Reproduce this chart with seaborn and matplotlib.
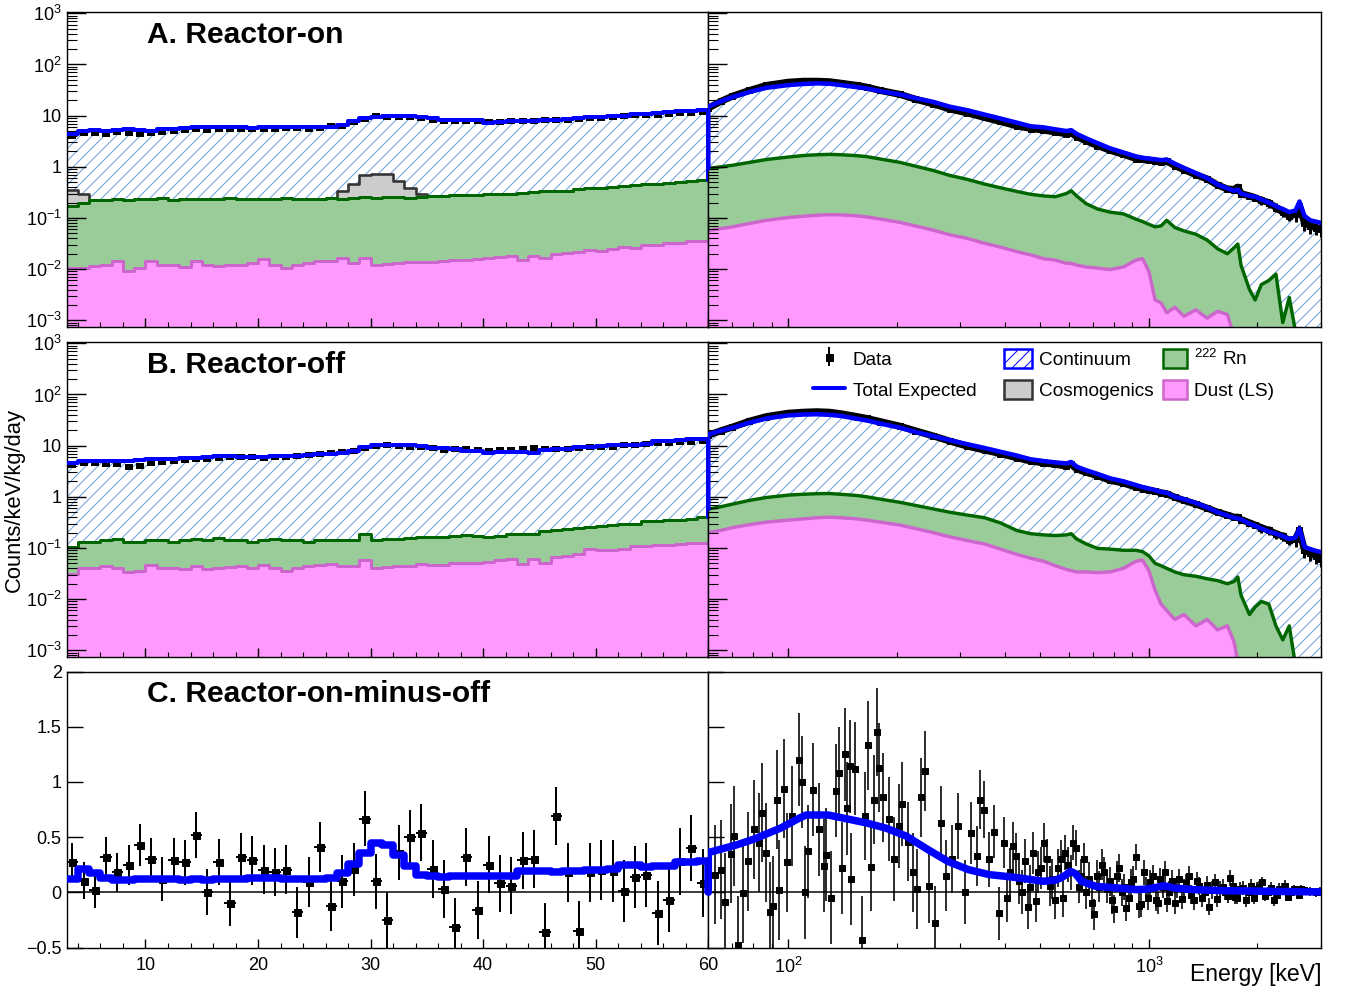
import numpy as np
import matplotlib
matplotlib.use("Agg")
import matplotlib.pyplot as plt
import seaborn as sns
from matplotlib.legend import Legend
from matplotlib.lines import Line2D
from matplotlib.patches import Patch
from matplotlib.ticker import (FixedLocator, LogLocator, MultipleLocator,
                               FuncFormatter, NullFormatter, NullLocator)

# ------------------------------------------------------------------ data
# 1 keV bins between 3 and 60 keV (lower edges)
bin_lo = list(range(3, 60))

# Reactor-on, 3-60 keV
a_total_lo = [4.4, 5.0, 5.3, 5.1, 5.3, 5.4, 5.3, 5.1, 5.4, 5.5, 5.7, 5.9, 6.0, 6.1, 6.1,
              5.9, 5.8, 5.9, 6.0, 5.9, 6.1, 5.9, 5.9, 6.1, 6.5, 7.8, 8.8, 9.6, 10.0, 10.0,
              10.0, 9.4, 9.0, 8.4, 8.4, 8.4, 8.2, 7.3, 7.6, 7.8, 7.8, 8.0, 8.4, 8.4, 8.5,
              8.9, 9.5, 9.6, 9.8, 10.0, 10.8, 11.0, 11.2, 11.8, 12.3, 12.4, 12.6]
a_data_lo = [4.0, 4.5, 4.6, 4.4, 4.7, 4.6, 4.4, 4.5, 4.8, 4.9, 5.2, 5.4, 5.3, 5.6, 5.5,
             5.4, 5.6, 5.5, 5.4, 5.7, 5.8, 5.6, 5.8, 6.2, 6.3, 7.5, 8.5, 9.8, 9.6, 9.6,
             9.3, 8.8, 8.4, 7.9, 8.0, 7.8, 7.7, 7.5, 7.6, 7.9, 7.9, 8.0, 8.2, 8.4, 8.3,
             8.6, 9.0, 9.0, 9.3, 10.0, 10.2, 10.5, 10.5, 11.0, 11.2, 11.5, 11.8]
# dust + 222Rn stack level
a_rn_cum_lo = [0.17, 0.20, 0.22, 0.22, 0.23, 0.22, 0.24, 0.23, 0.25, 0.22, 0.23, 0.23, 0.24,
               0.23, 0.25, 0.23, 0.24, 0.24, 0.23, 0.25, 0.24, 0.23, 0.24, 0.25, 0.24,
               0.25, 0.26, 0.25, 0.26, 0.26, 0.25, 0.26, 0.27, 0.27, 0.28, 0.28, 0.28,
               0.29, 0.29, 0.29, 0.31, 0.32, 0.33, 0.34, 0.34, 0.37, 0.38, 0.39, 0.41,
               0.42, 0.44, 0.46, 0.47, 0.49, 0.51, 0.52, 0.55]
a_dust_lo = [0.0105, 0.0105, 0.0114, 0.0123, 0.0143, 0.0094, 0.0105, 0.0146, 0.0123, 0.0118,
             0.011, 0.0143, 0.0118, 0.0114, 0.0118, 0.0123, 0.013, 0.0155, 0.0123, 0.0105,
             0.0118, 0.013, 0.0145, 0.0143, 0.0165, 0.0132, 0.0165, 0.012, 0.0128, 0.013,
             0.0135, 0.0138, 0.014, 0.0145, 0.0148, 0.015, 0.0155, 0.0165, 0.017, 0.018,
             0.015, 0.018, 0.0165, 0.0195, 0.021, 0.022, 0.024, 0.023, 0.025, 0.027,
             0.026, 0.029, 0.030, 0.032, 0.033, 0.035, 0.036]
a_cosmo_lo = ([0.19, 0.10] + [0.0] * 22
              + [0.09, 0.21, 0.43, 0.46, 0.45, 0.26, 0.13, 0.04] + [0.0] * 25)

# Reactor-off, 3-60 keV
b_total_lo = [4.6, 5.0, 5.0, 5.0, 5.1, 5.1, 5.3, 5.4, 5.4, 5.6, 5.8, 5.8, 6.0, 6.2, 6.2,
              6.1, 6.1, 6.1, 6.2, 6.3, 6.3, 6.5, 7.0, 7.0, 7.2,
              7.9, 9.2, 10.5, 10.5, 10.5, 10.5, 10.0, 8.8, 8.8, 8.5, 7.9, 7.9, 7.1, 7.6,
              7.6, 7.5, 7.3, 8.2, 8.5, 8.7, 9.4, 9.6, 9.9, 10.1, 10.3, 10.5, 10.8, 12.3,
              12.5, 13.0, 13.2, 13.4]
b_data_lo = [4.2, 4.5, 4.6, 4.4, 4.3, 3.9, 4.0, 4.6, 4.8, 5.0, 5.2, 5.4, 5.6, 5.8, 6.0,
             5.9, 6.0, 5.8, 5.9, 6.1, 6.3, 6.6, 6.8, 7.2, 7.6,
             8.0, 9.0, 9.9, 10.2, 9.8, 9.6, 9.2, 8.8, 8.4, 8.6, 8.7, 8.2, 8.0, 8.2, 8.3,
             8.6, 8.9, 8.5, 8.7, 8.7, 9.0, 9.3, 9.4, 9.6, 10.1, 10.4, 10.6, 11.2, 11.3,
             11.8, 12.0, 12.2]
b_rn_cum_lo = [0.105, 0.128, 0.13, 0.14, 0.15, 0.13, 0.13, 0.14, 0.14, 0.13, 0.14, 0.15,
               0.14, 0.16, 0.14, 0.14, 0.13, 0.14, 0.15, 0.14, 0.14, 0.13, 0.14, 0.14, 0.145,
               0.146, 0.186, 0.142, 0.15, 0.153, 0.16, 0.166, 0.166, 0.166, 0.172, 0.18,
               0.17, 0.166, 0.172, 0.186, 0.186, 0.186, 0.21, 0.22, 0.23, 0.245, 0.258,
               0.27, 0.28, 0.29, 0.30, 0.34, 0.34, 0.35, 0.36, 0.37, 0.40]
b_dust_lo = [0.031, 0.040, 0.041, 0.045, 0.040, 0.034, 0.036, 0.047, 0.040, 0.041, 0.038,
             0.045, 0.039, 0.041, 0.042, 0.044, 0.041, 0.047, 0.040, 0.036, 0.040, 0.044,
             0.046, 0.048, 0.045,
             0.044, 0.059, 0.041, 0.043, 0.045, 0.045, 0.049, 0.046, 0.047, 0.05, 0.05,
             0.051, 0.054, 0.057, 0.06, 0.049, 0.06, 0.05, 0.066, 0.071, 0.075, 0.094,
             0.09, 0.092, 0.095, 0.108, 0.11, 0.112, 0.115, 0.12, 0.123, 0.126]

# On-minus-off, 3-60 keV
c_data_lo = [0.275, 0.106, 0.024, 0.32, 0.18, 0.245, 0.43, 0.305, 0.12, 0.296, 0.27, 0.52,
             0.0, 0.275, -0.094, 0.32, 0.29, 0.205, 0.185, 0.205, -0.18, 0.094, 0.41,
             -0.12, 0.10, 0.21, 0.665, 0.10, -0.25, 0.36, 0.50, 0.54, 0.21, 0.03, -0.31,
             0.32, -0.16, 0.25, 0.08, 0.06, 0.29, 0.30, -0.36, 0.69, 0.18, -0.35, 0.18,
             0.2, 0.19, 0.015, 0.14, 0.16, -0.19, -0.07, 0.28, 0.40, 0.085]
c_err_lo = [0.17, 0.17, 0.17, 0.18, 0.18, 0.18, 0.19, 0.19, 0.20, 0.20, 0.20, 0.21, 0.21,
            0.21, 0.21, 0.22, 0.22, 0.22, 0.22, 0.22, 0.23, 0.23, 0.23, 0.23, 0.24, 0.24,
            0.25, 0.25, 0.25, 0.25, 0.25, 0.26, 0.26, 0.26, 0.26, 0.26, 0.26, 0.26, 0.26,
            0.26, 0.26, 0.26, 0.26, 0.26, 0.27, 0.27, 0.27, 0.27, 0.28, 0.28, 0.28, 0.29,
            0.29, 0.29, 0.30, 0.30, 0.31]
c_exp_lo = [0.125, 0.21, 0.175, 0.13, 0.115, 0.115, 0.12, 0.12, 0.12, 0.12, 0.115, 0.12,
            0.115, 0.12, 0.12, 0.125, 0.13, 0.13, 0.13, 0.125, 0.125, 0.12, 0.12, 0.13,
            0.175, 0.26, 0.355, 0.45, 0.43, 0.34, 0.235, 0.16, 0.145, 0.14, 0.145, 0.15,
            0.145, 0.145, 0.15, 0.15, 0.19, 0.19, 0.19, 0.185, 0.19, 0.19, 0.2, 0.2,
            0.215, 0.245, 0.25, 0.23, 0.235, 0.235, 0.27, 0.27, 0.28]

# 60-3000 keV sample energies
energy_hi = [60, 65, 70, 78, 87, 100, 110, 120, 130, 140, 155, 165, 180, 204, 225,
             252, 280, 313, 350, 387, 430, 470, 510, 550, 590, 609, 630, 670, 720, 780,
             850, 920, 960, 1000, 1040, 1080, 1120, 1180, 1250, 1350, 1450, 1550, 1650,
             1720, 1764, 1800, 1900, 1970, 2050, 2150, 2250, 2350, 2450, 2550, 2615,
             2700, 2800, 2900, 3000]

a_total_hi = [15, 19, 23, 29, 35, 39.5, 41.5, 42.7, 42, 39.5, 36, 34, 30, 26, 22, 18.6, 15,
              12.8, 10.5, 8.8, 7.3, 6.2, 5.9, 5.4, 5.0, 5.2, 4.4, 3.6, 2.9, 2.3, 1.9, 1.6,
              1.5, 1.45, 1.4, 1.35, 1.38, 1.15, 0.95, 0.75, 0.6, 0.45, 0.38, 0.34, 0.36,
              0.3, 0.27, 0.26, 0.23, 0.2, 0.17, 0.15, 0.13, 0.14, 0.21, 0.11, 0.09, 0.085,
              0.08]
a_data_hi = [14, 19, 24, 31, 39, 45, 47, 47, 46, 43, 39, 36, 31, 26, 21, 17, 13.5, 11.3,
             9.2, 7.7, 6.3, 5.6, 5.2, 4.8, 4.4, 4.6, 3.9, 3.2, 2.6, 2.1, 1.75, 1.45, 1.4,
             1.35, 1.3, 1.25, 1.3, 1.05, 0.88, 0.7, 0.58, 0.44, 0.37, 0.36, 0.4, 0.3, 0.27,
             0.25, 0.22, 0.2, 0.16, 0.13, 0.11, 0.12, 0.17, 0.08, 0.07, 0.065, 0.06]
a_rn_cum_hi = [0.93, 1.0, 1.07, 1.22, 1.39, 1.55, 1.66, 1.72, 1.75, 1.72, 1.65, 1.58, 1.42,
               1.22, 1.03, 0.85, 0.68, 0.57, 0.46, 0.39, 0.33, 0.29, 0.27, 0.26, 0.30, 0.34,
               0.27, 0.19, 0.15, 0.13, 0.12, 0.095, 0.085, 0.075, 0.067, 0.07, 0.09, 0.065,
               0.056, 0.048, 0.037, 0.025, 0.02, 0.026, 0.031, 0.012, 0.004, 0.0025, 0.005,
               0.006, 0.008, 0.0009, 0.0028, 0.0006, 0.0005, 0.0005, 0.0005, 0.0005, 0.0005]
a_dust_hi = [0.057, 0.062, 0.067, 0.078, 0.09, 0.102, 0.108, 0.113, 0.116, 0.115, 0.11,
             0.105, 0.095, 0.082, 0.07, 0.058, 0.047, 0.04, 0.032, 0.027, 0.022, 0.019,
             0.016, 0.015, 0.013, 0.013, 0.012, 0.011, 0.0105, 0.0098, 0.011, 0.015, 0.016,
             0.009, 0.0025, 0.0022, 0.0014, 0.0018, 0.0012, 0.0016, 0.0011, 0.0015, 0.0013,
             0.0005, 0.0004, 0.0004, 0.0004, 0.0004, 0.0004, 0.0004, 0.0004, 0.0004,
             0.0004, 0.0004, 0.0004, 0.0004, 0.0004, 0.0004, 0.0004]

b_total_hi = [16.6, 19.5, 22.4, 28, 34, 39, 40.5, 41, 40, 38, 33.5, 31, 27, 22.4, 18.5,
              15.4, 12.8, 10.7, 9.0, 7.6, 6.4, 5.4, 5.0, 4.7, 4.5, 4.8, 3.9, 3.3, 2.8, 2.3,
              2.0, 1.7, 1.55, 1.45, 1.35, 1.25, 1.2, 1.0, 0.9, 0.76, 0.62, 0.5, 0.43, 0.39,
              0.38, 0.36, 0.3, 0.27, 0.24, 0.21, 0.19, 0.17, 0.15, 0.16, 0.24, 0.105, 0.095,
              0.088, 0.083]
b_data_hi = [16, 19.5, 23, 30, 37, 43, 45, 46, 45, 42, 37, 34, 29.5, 24, 19.5, 15.5, 12.3,
             9.8, 8.2, 7.0, 5.8, 5.0, 4.6, 4.3, 4.0, 4.3, 3.5, 3.0, 2.6, 2.1, 1.85, 1.55,
             1.45, 1.35, 1.28, 1.2, 1.15, 0.98, 0.85, 0.72, 0.6, 0.5, 0.44, 0.40, 0.40,
             0.36, 0.31, 0.28, 0.25, 0.22, 0.19, 0.17, 0.14, 0.15, 0.22, 0.09, 0.08, 0.07,
             0.06]
b_rn_cum_hi = [0.575, 0.64, 0.72, 0.85, 0.97, 1.08, 1.12, 1.15, 1.16, 1.12, 1.06, 1.0, 0.9,
               0.78, 0.68, 0.58, 0.5, 0.44, 0.39, 0.31, 0.22, 0.19, 0.18, 0.175, 0.18, 0.19,
               0.15, 0.12, 0.098, 0.095, 0.09, 0.09, 0.085, 0.07, 0.05, 0.045, 0.04, 0.034,
               0.03, 0.028, 0.025, 0.023, 0.02, 0.022, 0.027, 0.012, 0.005, 0.007, 0.009,
               0.008, 0.003, 0.0016, 0.003, 0.0005, 0.0004, 0.0004, 0.0004, 0.0004, 0.0004]
b_dust_hi = [0.20, 0.22, 0.25, 0.285, 0.32, 0.35, 0.37, 0.39, 0.40, 0.39, 0.37, 0.35, 0.32,
             0.28, 0.24, 0.2, 0.165, 0.14, 0.12, 0.095, 0.075, 0.063, 0.055, 0.045, 0.038,
             0.036, 0.034, 0.034, 0.033, 0.034, 0.04, 0.055, 0.058, 0.036, 0.015, 0.008,
             0.006, 0.004, 0.005, 0.003, 0.004, 0.0025, 0.003, 0.0015, 0.0006, 0.0003,
             0.0003, 0.0003, 0.0003, 0.0003, 0.0003, 0.0003, 0.0003, 0.0003, 0.0003,
             0.0003, 0.0003, 0.0003, 0.0003]
# fractional statistical uncertainty of the spectra above 60 keV
rel_err_hi = [0.03, 0.03, 0.03, 0.03, 0.03, 0.03, 0.03, 0.03, 0.03, 0.03, 0.03, 0.03, 0.03,
              0.04, 0.04, 0.04, 0.04, 0.04, 0.04, 0.04, 0.04, 0.04,
              0.06, 0.06, 0.06, 0.06, 0.06, 0.06, 0.06, 0.06, 0.06, 0.06, 0.06,
              0.09, 0.09, 0.09, 0.09, 0.09, 0.09, 0.09, 0.09,
              0.13, 0.13, 0.13, 0.13, 0.13, 0.13, 0.13,
              0.2, 0.2, 0.2, 0.2, 0.2,
              0.3, 0.3, 0.3, 0.3, 0.3, 0.3]

# On-minus-off above 60 keV
c_energy_hi = [62.8, 64.9, 66.8, 69.4, 70.7, 72.7, 75.0, 77.3, 80.4, 83.0, 84.6, 86.9, 88.8,
               90.6, 92.8, 94.1, 97.4, 99.0, 102.7, 106.9, 108.9, 111.2, 113.3, 117.3,
               122.0, 125.3, 127.6, 131.5, 135.7, 137.9, 140.5, 143.3, 145.2, 147.9,
               149.5, 152.8, 159.6, 163.1, 166.3, 169.9, 173.3, 176.6, 179.0, 183.0,
               190.7, 195.9, 203.0, 207.0, 215.0, 221.6, 227.4, 234.0, 239.5, 245.6,
               255.3, 264.3, 273.0, 284.0, 296.0, 309.0, 322.0, 333.0, 340.0, 349.0,
               361.0, 373.0, 383.0, 397.0, 413.0, 427.0, 445.0, 461.0, 477.0, 493.0,
               512.0, 531.0, 550.0, 570.0, 586.0, 607.0, 627.0, 649.0, 670.0, 694.0,
               717.0, 741.0, 764.0, 791.0, 814.0, 840.0, 866.0, 890.0, 923.0, 950.0,
               982.0, 1010.0, 1045.0, 1075.0, 1110.0, 1140.0, 1180.0, 1215.0, 1250.0,
               1290.0, 1335.0, 1380.0, 1430.0, 1470.0, 1520.0, 1570.0, 1630.0, 1680.0,
               1730.0, 1790.0, 1860.0, 1920.0, 1990.0, 2060.0, 2140.0, 2220.0, 2300.0,
               2390.0, 2480.0, 2570.0, 2640.0]
c_data_hi = [0.16, 0.205, -0.09, 0.35, 0.51, -0.48, -0.01, 0.28, 0.57, 0.45, 0.72, 0.36,
             -0.18, -0.12, 0.84, 0.02, 0.94, 0.27, 0.69, 1.2, 1.0, 0.0, 0.37, 0.93, 0.57,
             0.24, 0.34, -0.05, 0.92, 1.08, 0.22, 1.25, 0.76, 1.14, 0.12, 1.12, -0.43,
             0.69, 1.33, 0.23, 0.84, 1.45, 1.13, 0.86, 0.66, 0.30, 0.60, 0.80, 0.46, 0.18,
             0.03, 0.86, 1.10, 0.06, -0.28, 0.63, 0.15, 0.30, 0.60, 0.0, 0.54, 0.33, 0.84,
             0.75, 0.30, 0.55, -0.19, 0.45, 0.18, 0.33, 0.0, -0.13, 0.36, 0.18, 0.45, 0.06,
             -0.07, 0.30, 0.36, 0.18, 0.40, 0.15, 0.0, -0.10, 0.15, 0.25, 0.03, -0.07,
             0.15, 0.0, -0.14, 0.09, 0.32, -0.11, 0.03, 0.09, -0.07, 0.12, 0.18, 0.0,
             -0.10, 0.12, 0.03, 0.15, -0.07, 0.06, 0.0, -0.13, 0.09, 0.03, 0.0, 0.13,
             -0.04, 0.03, -0.07, 0.06, 0.03, 0.09, 0.0, -0.07, 0.03, 0.06, 0.0, 0.01, 0.03]
c_err_hi = [0.45, 0.45, 0.45, 0.45, 0.45, 0.45, 0.45, 0.45, 0.45, 0.45, 0.45, 0.45, 0.45,
            0.45, 0.45, 0.45, 0.45, 0.45, 0.45, 0.42, 0.42, 0.42, 0.42, 0.42, 0.42, 0.42,
            0.42, 0.42, 0.42, 0.42, 0.42, 0.42, 0.42, 0.42, 0.42, 0.42, 0.4, 0.4, 0.4, 0.4,
            0.4, 0.4, 0.4, 0.4, 0.38, 0.38, 0.38, 0.38, 0.36, 0.36, 0.36, 0.36, 0.36, 0.34,
            0.34, 0.33, 0.32, 0.31, 0.30, 0.29, 0.28, 0.27, 0.27, 0.26, 0.25, 0.24, 0.24,
            0.23, 0.22, 0.21, 0.2, 0.2, 0.19, 0.19, 0.18, 0.18, 0.17, 0.17, 0.16, 0.16,
            0.16, 0.15, 0.15, 0.14, 0.14, 0.14, 0.13, 0.13, 0.13, 0.12, 0.12, 0.12, 0.12,
            0.11, 0.11, 0.11, 0.1, 0.1, 0.1, 0.1, 0.1, 0.09, 0.09, 0.09, 0.09, 0.08, 0.08,
            0.08, 0.08, 0.07, 0.07, 0.07, 0.07, 0.06, 0.06, 0.06, 0.06, 0.05, 0.05, 0.05,
            0.05, 0.05, 0.04, 0.04, 0.04]
# further on-minus-off bins in the dense region above 400 keV
c_energy_hi2 = [405, 420, 436, 453, 469, 485, 502, 521, 540, 560, 578, 597, 617, 638, 660,
                682, 705, 729, 752, 778, 802, 827, 853, 878, 906, 936, 966, 996, 1027, 1060,
                1092, 1125, 1160, 1197, 1232, 1270, 1312, 1357, 1405, 1450, 1495, 1545,
                1600, 1655, 1705, 1760, 1825, 1890, 1955, 2025, 2100, 2180, 2260, 2345,
                2435, 2525, 2610, 2700, 2800, 2900, 2980]
c_data_hi2 = [-0.05, 0.42, 0.1, 0.28, 0.05, -0.08, 0.22, 0.30, 0.12, 0.22, -0.05, 0.25, 0.45,
              0.05, 0.3, 0.12, -0.2, 0.05, 0.18, 0.1, -0.15, 0.22, 0.05, -0.05, 0.12, -0.12,
              0.18, -0.05, 0.15, -0.1, 0.05, -0.08, 0.1, 0.04, -0.06, 0.08, -0.02, 0.1,
              -0.05, 0.07, 0.02, -0.06, 0.05, -0.03, 0.06, -0.05, 0.04, 0.0, -0.05, 0.05,
              -0.03, 0.04, -0.02, 0.03, -0.04, 0.03, -0.02, 0.02, 0.01, 0.0, 0.01]
c_err_hi2 = [0.22, 0.22, 0.21, 0.2, 0.2, 0.19, 0.19, 0.18, 0.18, 0.17, 0.17, 0.16, 0.16, 0.15,
             0.15, 0.15, 0.14, 0.14, 0.14, 0.13, 0.13, 0.13, 0.12, 0.12, 0.12, 0.11, 0.11,
             0.11, 0.1, 0.1, 0.1, 0.1, 0.1, 0.09, 0.09, 0.09, 0.09, 0.08, 0.08, 0.08, 0.08,
             0.07, 0.07, 0.07, 0.07, 0.06, 0.06, 0.06, 0.06, 0.05, 0.05, 0.05, 0.05, 0.05,
             0.04, 0.04, 0.04, 0.04, 0.04, 0.04, 0.04]
c_exp_energy_hi = [60, 72, 80, 95, 107, 112, 129, 143, 164, 187, 212, 243, 277, 316, 361,
                   413, 472, 510, 550, 570, 590, 605, 625, 650, 712, 812, 925, 990, 1050,
                   1100, 1170, 1330, 1630, 2060, 2640, 3000]
c_exp_hi = [0.36, 0.43, 0.48, 0.58, 0.67, 0.70, 0.70, 0.67, 0.63, 0.58, 0.51, 0.39, 0.28,
            0.205, 0.16, 0.14, 0.115, 0.10, 0.11, 0.13, 0.16, 0.19, 0.17, 0.10, 0.054, 0.04,
            0.024, 0.03, 0.045, 0.06, 0.04, 0.024, 0.015, 0.01, 0.005, 0.004]

# ------------------------------------------------------------------ style
BLUE = "#0000ff"
HATCH_C = "#6a9fdc"
PINK_F, PINK_L = "#ff99ff", "#cc66cc"
GREEN_F, GREEN_L = "#99cc99", "#006600"
GREY_F, GREY_L = "#cccccc", "#333333"

sns.set_theme(style="ticks", rc={"axes.edgecolor": "black", "text.color": "black",
                                 "xtick.color": "black", "ytick.color": "black",
                                 "axes.labelcolor": "black"})
plt.rcParams["font.family"] = ["Liberation Sans", "DejaVu Sans"]
plt.rcParams["mathtext.fontset"] = "custom"
plt.rcParams["mathtext.rm"] = "Liberation Sans"
plt.rcParams["mathtext.it"] = "Liberation Sans:italic"
plt.rcParams["mathtext.bf"] = "Liberation Sans:bold"
plt.rcParams["hatch.linewidth"] = 1.0
plt.rcParams["axes.linewidth"] = 1.4

W, H = 1349, 994
fig = plt.figure(figsize=(W / 72, H / 72), dpi=72)


def rect(x0, x1, y0, y1):
    return [x0 / W, 1 - y1 / H, (x1 - x0) / W, (y1 - y0) / H]


XL0, XM, XR1 = 66.7, 708.3, 1321
rows = {"A": (12, 327), "B": (342, 657), "C": (671.5, 947.5)}
axes = {}
for r, (y0, y1) in rows.items():
    axes[r + "L"] = fig.add_axes(rect(XL0, XM, y0, y1))
    axes[r + "R"] = fig.add_axes(rect(XM, XR1, y0, y1))
for ax in axes.values():
    ax.set_axisbelow(False)
    for s in ax.spines.values():
        s.set_linewidth(1.4)
        s.set_color("black")

LOG_FLOOR = 1e-5
TICK_FS = 18
edges_lo = bin_lo + [60]
centers_lo = [b + 0.5 for b in bin_lo]


def ext(v):
    return list(v) + [v[-1]]


def line(ax, x, y, color, lw, z, step=False):
    kw = dict(drawstyle="steps-post") if step else {}
    sns.lineplot(x=x, y=y, ax=ax, color=color, linewidth=lw, estimator=None,
                 sort=False, zorder=z, legend=False, **kw)


def draw_low(ax, total, data, rn_cum, dust, cosmo=None):
    top = rn_cum if cosmo is None else [r + c for r, c in zip(rn_cum, cosmo)]
    ax.fill_between(edges_lo, LOG_FLOOR, ext(dust), step="post", color=PINK_F, lw=0, zorder=1)
    ax.fill_between(edges_lo, ext(dust), ext(rn_cum), step="post", color=GREEN_F, lw=0, zorder=1)
    if cosmo is not None:
        ax.fill_between(edges_lo, ext(rn_cum), ext(top), step="post", color=GREY_F, lw=0, zorder=1)
    ax.fill_between(edges_lo, ext(top), ext(total), step="post", facecolor="none",
                    edgecolor=HATCH_C, hatch="//", lw=0, zorder=1.1)
    if cosmo is not None:
        line(ax, edges_lo, ext(top), GREY_L, 2.6, 2, step=True)
    line(ax, edges_lo, ext(rn_cum), GREEN_L, 3.0, 2.1, step=True)
    line(ax, edges_lo, ext(dust), PINK_L, 3.0, 2.2, step=True)
    ax.plot(centers_lo, data, ls="none", marker="_", ms=8, mew=6, color="black", zorder=3)
    line(ax, edges_lo + [60], ext(total) + [top[-1]], BLUE, 4, 4, step=True)


def draw_high(ax, total, data, rn_cum, dust):
    ax.fill_between(energy_hi, LOG_FLOOR, dust, color=PINK_F, lw=0, zorder=1)
    ax.fill_between(energy_hi, dust, rn_cum, color=GREEN_F, lw=0, zorder=1)
    ax.fill_between(energy_hi, rn_cum, total, facecolor="none", edgecolor=HATCH_C,
                    hatch="//", lw=0, zorder=1.1)
    line(ax, energy_hi, rn_cum, GREEN_L, 3.4, 2.1)
    line(ax, energy_hi, dust, PINK_L, 3.4, 2.2)
    err = [d * r for d, r in zip(data, rel_err_hi)]
    line(ax, energy_hi, data, "black", 7, 2.9)
    ax.errorbar(energy_hi, data, yerr=err, fmt="s", ms=6, color="black",
                elinewidth=3, capsize=0, zorder=3)
    line(ax, [energy_hi[0]] + energy_hi, [rn_cum[0]] + total, BLUE, 4.5, 4)


def decade_label(v, pos):
    e = int(round(np.log10(v)))
    if e == 0:
        return "1"
    if e == 1:
        return "10"
    return r"$10^{%d}$" % e


def style_log_y(ax, labels):
    ax.set_yscale("log")
    ax.set_ylim(7.4e-4, 1.06e3)
    ax.yaxis.set_major_locator(FixedLocator([1e-3, 1e-2, 1e-1, 1, 10, 100, 1000]))
    ax.yaxis.set_minor_locator(LogLocator(base=10, subs=np.arange(2, 10), numticks=40))
    ax.yaxis.set_minor_formatter(NullFormatter())
    ax.yaxis.set_major_formatter(FuncFormatter(decade_label))
    ax.tick_params(axis="y", which="major", direction="in", length=19, width=1.4,
                   left=True, right=False, labelleft=labels, labelsize=TICK_FS, pad=5)
    ax.tick_params(axis="y", which="minor", direction="in", length=10, width=1.1,
                   left=True, right=False)


def style_lin_x(ax, labels):
    ax.set_xlim(3, 60)
    ax.xaxis.set_major_locator(MultipleLocator(10))
    ax.xaxis.set_minor_locator(MultipleLocator(2))
    ax.tick_params(axis="x", which="major", direction="in", length=9, width=1.4,
                   bottom=True, top=False, labelbottom=labels, labelsize=TICK_FS, pad=9)
    ax.tick_params(axis="x", which="minor", direction="in", length=5, width=1.1,
                   bottom=True, top=False)


def style_log_x(ax, labels):
    ax.set_xscale("log")
    ax.set_xlim(60, 3000)
    ax.xaxis.set_major_locator(FixedLocator([100, 1000]))
    ax.xaxis.set_minor_locator(LogLocator(base=10, subs=np.arange(2, 10), numticks=40))
    ax.xaxis.set_minor_formatter(NullFormatter())
    ax.xaxis.set_major_formatter(FuncFormatter(decade_label))
    ax.tick_params(axis="x", which="major", direction="in", length=9, width=1.4,
                   bottom=True, top=False, labelbottom=labels, labelsize=TICK_FS, pad=9)
    ax.tick_params(axis="x", which="minor", direction="in", length=5, width=1.1,
                   bottom=True, top=False)


def style_diff_y(ax, labels):
    ax.set_ylim(-0.5, 2)
    ax.yaxis.set_major_locator(FixedLocator([-0.5, 0, 0.5, 1, 1.5, 2]))
    ax.yaxis.set_minor_locator(NullLocator())
    ax.yaxis.set_major_formatter(FuncFormatter(lambda v, p: f"{v:g}".replace("-", "\u2212")))
    ax.tick_params(axis="y", which="major", direction="in", length=16, width=1.4,
                   left=True, right=False, labelleft=labels, labelsize=TICK_FS, pad=5)
    ax.axhline(0, color="black", lw=1.5, zorder=2)


# ------------------------------------------------------------------ rows A, B
draw_low(axes["AL"], a_total_lo, a_data_lo, a_rn_cum_lo, a_dust_lo, a_cosmo_lo)
draw_high(axes["AR"], a_total_hi, a_data_hi, a_rn_cum_hi, a_dust_hi)
draw_low(axes["BL"], b_total_lo, b_data_lo, b_rn_cum_lo, b_dust_lo)
draw_high(axes["BR"], b_total_hi, b_data_hi, b_rn_cum_hi, b_dust_hi)

for r in "AB":
    style_log_y(axes[r + "L"], True)
    style_log_y(axes[r + "R"], False)
    style_lin_x(axes[r + "L"], False)
    style_log_x(axes[r + "R"], False)

# ------------------------------------------------------------------ row C
axC_L, axC_R = axes["CL"], axes["CR"]
axC_L.errorbar(centers_lo, c_data_lo, yerr=c_err_lo, xerr=0.5, fmt="s", ms=7,
               color="black", elinewidth=2, capsize=0, zorder=3)
line(axC_L, edges_lo + [60], ext(c_exp_lo) + [0], BLUE, 7.5, 4, step=True)

for ex, dv, de in [(c_energy_hi, c_data_hi, c_err_hi), (c_energy_hi2, c_data_hi2, c_err_hi2)]:
    axC_R.errorbar(ex, dv, yerr=de, fmt="s", ms=6, color="black",
                   elinewidth=1.6, capsize=0, zorder=3)
line(axC_R, [c_exp_energy_hi[0]] + c_exp_energy_hi, [0] + c_exp_hi, BLUE, 7.5, 4)

style_diff_y(axC_L, True)
style_diff_y(axC_R, False)
style_lin_x(axC_L, True)
style_log_x(axC_R, True)

for ax in axes.values():
    ax.set_xlabel("")
    ax.set_ylabel("")

# ------------------------------------------------------------------ text
for r, txt, yf in [("A", "A. Reactor-on", 0.928), ("B", "B. Reactor-off", 0.928),
                   ("C", "C. Reactor-on-minus-off", 0.918)]:
    axes[r + "L"].text(0.125, yf, txt, transform=axes[r + "L"].transAxes, fontsize=30,
                       fontweight="bold", ha="left", va="center", zorder=10)

fig.text(14 / W, 1 - 500 / H, "Counts/keV/kg/day", rotation=90, ha="center",
         va="center", fontsize=22)
fig.text(XR1 / W, 1 - 975 / H, "Energy [keV]", ha="right", va="center", fontsize=23)

# ------------------------------------------------------------------ legend
axB_R = axes["BR"]
h_data = axB_R.errorbar([np.nan], [np.nan], yerr=[0.1], fmt="s", ms=7, color="black",
                        elinewidth=2, capsize=0)
columns = [
    (813, 1.7, [(h_data, "Data"),
                (Line2D([0], [0], color=BLUE, lw=4), "Total Expected")]),
    (1004, 1.45, [(Patch(facecolor="white", edgecolor=BLUE, hatch="//", linewidth=2.5),
                   "Continuum"),
                  (Patch(facecolor=GREY_F, edgecolor=GREY_L, linewidth=2.5), "Cosmogenics")]),
    (1163, 1.25, [(Patch(facecolor=GREEN_F, edgecolor=GREEN_L, linewidth=2.5),
                   r"$^{222}$ Rn"),
                  (Patch(facecolor=PINK_F, edgecolor=PINK_L, linewidth=2.5), "Dust (LS)")]),
]
for px, hl, entries in columns:
    leg = Legend(axB_R, [e[0] for e in entries], [e[1] for e in entries], loc="upper left",
                 bbox_to_anchor=((px - XM) / (XR1 - XM), 0.978), frameon=False,
                 fontsize=19, handlelength=hl, handleheight=1.15, handletextpad=0.4,
                 labelspacing=0.6, borderpad=0, borderaxespad=0)
    axB_R.add_artist(leg)

fig.savefig("out.png", dpi=72, facecolor="white")
